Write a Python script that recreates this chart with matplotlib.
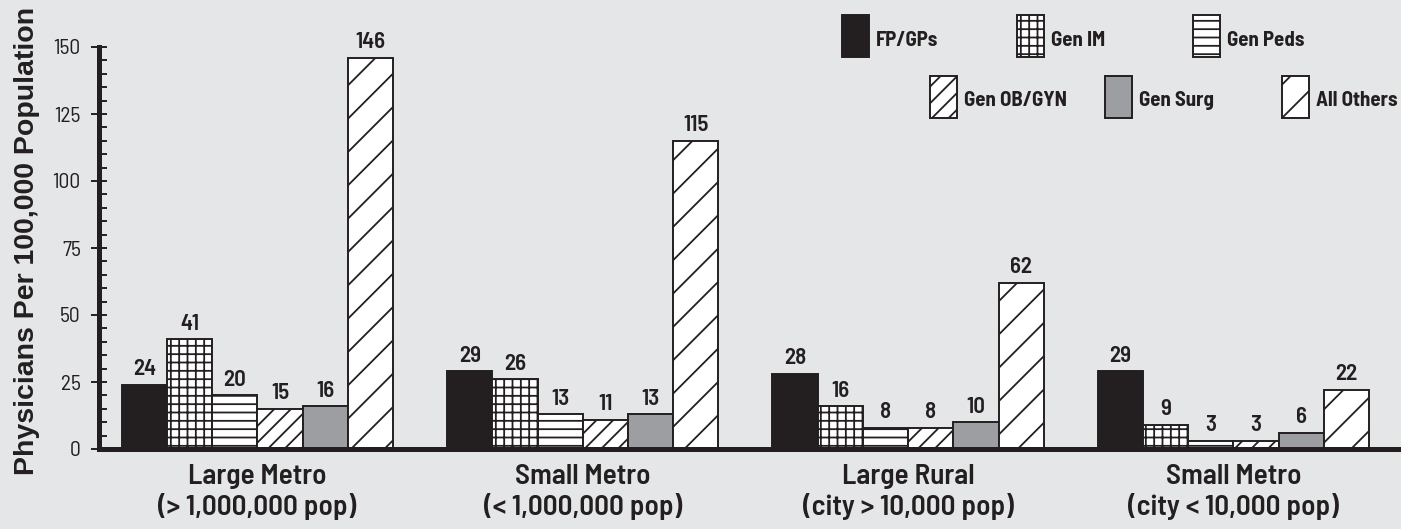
import matplotlib
matplotlib.use("Agg")
import matplotlib.pyplot as plt
from matplotlib.patches import Rectangle
from matplotlib.ticker import MultipleLocator
import numpy as np

COND = ['Barlow Semi Condensed', 'Barlow Condensed', 'Fira Sans Condensed',
        'PT Sans Narrow', 'Liberation Sans Narrow', 'DejaVu Sans']
plt.rcParams['font.family'] = COND
plt.rcParams['hatch.linewidth'] = 1.3

categories = ["Large Metro\n(> 1,000,000 pop)", "Small Metro\n(< 1,000,000 pop)",
              "Large Rural\n(city > 10,000 pop)", "Small Metro\n(city < 10,000 pop)"]
series_names = ["FP/GPs", "Gen IM", "Gen Peds", "Gen OB/GYN", "Gen Surg", "All Others"]
fp_gps = [24, 29, 28, 29]
gen_im = [41, 26, 16, 9]
gen_peds = [20, 13, 8, 3]
gen_obgyn = [15, 11, 8, 3]
gen_surg = [16, 13, 10, 6]
all_others = [146, 115, 62, 22]
series_values = [fp_gps, gen_im, gen_peds, gen_obgyn, gen_surg, all_others]

BG = '#e5e6e8'
INK = '#231f20'
styles = [
    dict(facecolor=INK, hatch=None),
    dict(facecolor='white', hatch='++'),
    dict(facecolor='white', hatch='--'),
    dict(facecolor='white', hatch='//'),
    dict(facecolor='#9c9ea1', hatch=None),
    dict(facecolor='white', hatch='/'),
]

W, H = 1401, 529
fig = plt.figure(figsize=(W / 100, H / 100), dpi=100, facecolor=BG)
ax = fig.add_axes([98.7 / W, 80 / H, 1 - 98.7 / W, (449 - 47) / H])
ax.set_facecolor(BG)

x = np.arange(len(categories))
bw = 0.139
for i, (vals, st) in enumerate(zip(series_values, styles)):
    bars = ax.bar(x + (i - 2.5) * bw, vals, bw, facecolor=st['facecolor'],
                  hatch=st['hatch'], edgecolor=INK, linewidth=1.4, zorder=2)
    ax.bar_label(bars, padding=4, fontsize=16.5, fontweight='semibold', color=INK)

ax.set_xlim(-0.488, 3.515)
ax.set_ylim(0, 150)
ax.yaxis.set_major_locator(MultipleLocator(25))
ax.yaxis.set_minor_locator(MultipleLocator(5))
ax.tick_params(axis='y', which='major', direction='inout', length=11.5, width=1.4,
               labelsize=15.5, colors=INK, pad=7)
ax.tick_params(axis='y', which='minor', direction='in', length=5.8, width=1.4, colors=INK)
ax.set_xticks(x)
ax.set_xticklabels(categories, fontsize=21, fontweight='semibold', color=INK,
                   linespacing=1.2)
ax.tick_params(axis='x', length=0, pad=10.5)

for s in ['top', 'right']:
    ax.spines[s].set_visible(False)
for s in ['left', 'bottom']:
    ax.spines[s].set_linewidth(3.6)
    ax.spines[s].set_color(INK)
    ax.spines[s].set_zorder(3)

fig.text(27 / W, 1 - 241 / H, "Physicians Per 100,000 Population", rotation=90,
         ha='center', va='center', fontsize=20.5, fontweight='bold', color=INK,
         family=['Liberation Sans', 'DejaVu Sans'])

# legend drawn by hand (staggered two rows)
leg_x = [842, 1017, 1193, 930, 1105, 1282]
leg_y = [15, 15, 15, 76, 76, 76]
for name, st, lx, ly in zip(series_names, styles, leg_x, leg_y):
    fig.add_artist(Rectangle((lx / W, 1 - (ly + 42) / H), 27 / W, 42 / H,
                             transform=fig.transFigure, facecolor=st['facecolor'],
                             hatch=st['hatch'], edgecolor=INK, linewidth=1.4))
    fig.text((lx + 34) / W, 1 - (ly + 25) / H, name, ha='left', va='center',
             fontsize=15, fontweight='bold', color=INK)

fig.savefig("out.png", dpi=100, facecolor=BG)
